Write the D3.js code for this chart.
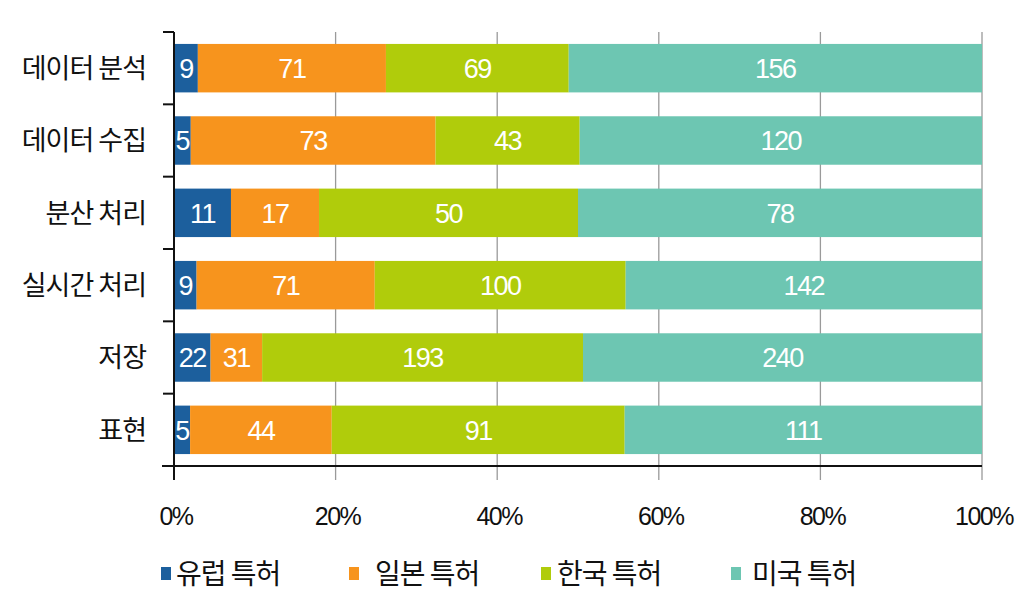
<!DOCTYPE html>
<html><head><meta charset="utf-8">
<script src="https://cdn.jsdelivr.net/npm/d3@7"></script>
<style>
html,body{margin:0;padding:0;background:#fff;}
svg{display:block;}
</style></head>
<body>
<svg id="chart" width="1024" height="591"></svg>
<script>
const categories = ["데이터 분석","데이터 수집","분산 처리","실시간 처리","저장","표현"];
const seriesNames = ["유럽 특허","일본 특허","한국 특허","미국 특허"];
const europe = [9,5,11,9,22,5];
const japan  = [71,73,17,71,31,44];
const korea  = [69,43,50,100,193,91];
const usa    = [156,120,78,142,240,111];
const tickLabels = ["0%","20%","40%","60%","80%","100%"];
const colors = ["#1c5f9d","#f7941d","#b0cc0b","#6dc6b2"];

const seriesValues = [europe, japan, korea, usa];
const rows = categories.map((c,i)=>{
  const r = {cat:c};
  seriesNames.forEach((s,j)=>r[s]=seriesValues[j][i]);
  return r;
});

const svg = d3.select("#chart");
const x = d3.scaleLinear().domain([0,1]).range([174,982]);
const y = d3.scaleBand().domain(categories).range([32,466]).paddingInner(0.33).paddingOuter(0.165);
const yb = d3.scaleBand().domain(categories).range([32,466]).padding(0);

const stack = d3.stack().keys(seriesNames).offset(d3.stackOffsetExpand);
const stacked = stack(rows);

// gridlines
svg.append("g").selectAll("line").data([0.2,0.4,0.6,0.8,1.0]).join("line")
  .attr("x1",d=>x(d)).attr("x2",d=>x(d)).attr("y1",32).attr("y2",480)
  .attr("stroke","#9a9a9a").attr("stroke-width",1.3);

// bars
const g = svg.append("g");
stacked.forEach((layer,li)=>{
  const lg = g.append("g");
  lg.selectAll("rect").data(layer).join("rect")
    .attr("x",d=>x(d[0])).attr("width",d=>x(d[1])-x(d[0]))
    .attr("y",d=>y(d.data.cat)).attr("height",y.bandwidth())
    .attr("fill",colors[li]);
  lg.selectAll("text").data(layer).join("text")
    .attr("x",d=>(x(d[0])+x(d[1]))/2)
    .attr("y",d=>y(d.data.cat)+y.bandwidth()/2)
    .attr("dy","0.36em")
    .attr("text-anchor","middle")
    .attr("fill","#fff")
    .style("font-family","'Liberation Sans',Arial,sans-serif")
    .style("font-size","27px")
    .style("letter-spacing","-1.5px")
    .text(d=>d.data[seriesNames[li]]);
});

// left axis
const ticksY = categories.map(c=>yb(c));
svg.append("line").attr("x1",174).attr("x2",174).attr("y1",32).attr("y2",480)
  .attr("stroke","#111").attr("stroke-width",2);
svg.append("g").selectAll("line").data(ticksY).join("line")
  .attr("x1",163).attr("x2",174).attr("y1",d=>d).attr("y2",d=>d)
  .attr("stroke","#111").attr("stroke-width",2);
svg.append("g").selectAll("text").data(categories).join("text")
  .attr("x",146).attr("y",d=>yb(d)+yb.bandwidth()/2).attr("dy","0.36em")
  .attr("text-anchor","end").attr("fill","#111")
  .style("font-family","'Noto Sans CJK KR',sans-serif")
  .style("font-size","27px").style("letter-spacing","-1px")
  .text(d=>d);

// bottom axis
svg.append("line").attr("x1",162).attr("x2",982).attr("y1",466).attr("y2",466)
  .attr("stroke","#111").attr("stroke-width",2);
svg.append("g").selectAll("text").data(tickLabels).join("text")
  .attr("x",(d,i)=>x(i/5)+2).attr("y",516).attr("dy","0.36em")
  .attr("text-anchor","middle").attr("fill","#111")
  .style("font-family","'Liberation Sans',Arial,sans-serif")
  .style("font-size","25px").style("letter-spacing","-1.5px")
  .text(d=>d);

// legend
const legX = [161,349,541,731];
const legTX = [176,375,557,752];
const leg = svg.append("g");
seriesNames.forEach((s,i)=>{
  leg.append("rect").attr("x",legX[i]).attr("y",567).attr("width",10).attr("height",13).attr("fill",colors[i]);
  leg.append("text").attr("x",legTX[i]).attr("y",574).attr("dy","0.36em")
    .attr("fill","#111")
    .style("font-family","'Noto Sans CJK KR',sans-serif")
    .style("font-size","28px").style("letter-spacing","-1px")
    .text(s);
});
</script>
</body></html>
